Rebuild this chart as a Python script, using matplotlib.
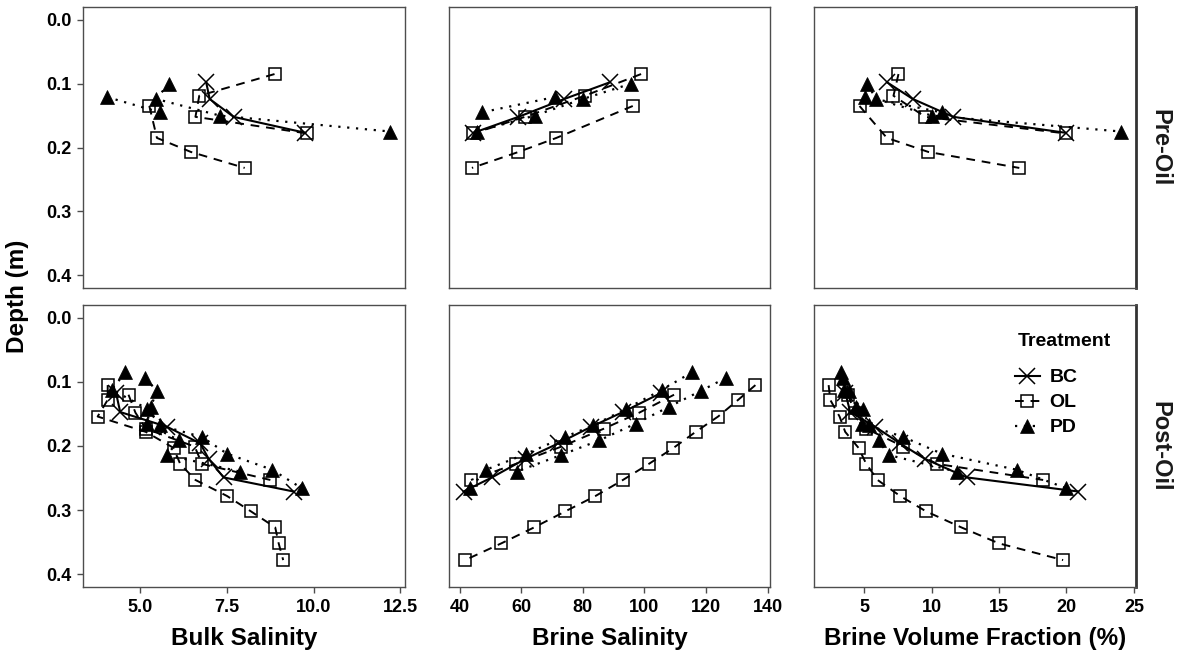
import matplotlib
matplotlib.use("Agg")
import matplotlib.pyplot as plt
from matplotlib.lines import Line2D
import numpy as np

plt.rcParams["font.family"] = ["Liberation Sans", "DejaVu Sans"]

W, H = 1179, 657
BORDER = "#4d4d4d"

PHASES = ["Pre-Oil", "Post-Oil"]
TREATMENTS = ["BC", "OL", "PD"]
X_TITLES = ["Bulk Salinity", "Brine Salinity", "Brine Volume Fraction (%)"]
X_TICKS = [[5.0, 7.5, 10.0, 12.5], [40, 60, 80, 100, 120, 140], [5, 10, 15, 20, 25]]
X_TICKLABELS = [["5.0", "7.5", "10.0", "12.5"],
                ["40", "60", "80", "100", "120", "140"],
                ["5", "10", "15", "20", "25"]]
Y_TICKS = [0.0, 0.1, 0.2, 0.3, 0.4]
Y_TICKLABELS = ["0.0", "0.1", "0.2", "0.3", "0.4"]

# ---- Pre-Oil profiles ----
pre_bc_depth = [0.098, 0.124, 0.152, 0.177]
pre_bc_bulk = [6.90, 7.00, 7.69, 9.76]
pre_bc_brine = [88.7, 74.0, 59.1, 44.5]
pre_bc_bvf = [6.7, 8.6, 11.6, 19.95]

pre_ol1_depth = [0.085, 0.119, 0.152, 0.178]
pre_ol1_bulk = [8.87, 6.70, 6.59, 9.81]
pre_ol1_brine = [98.9, 80.6, 61.2, 44.5]
pre_ol1_bvf = [7.54, 7.17, 9.52, 19.95]

pre_ol2_depth = [0.135, 0.185, 0.207, 0.232]
pre_ol2_bulk = [5.26, 5.48, 6.46, 8.01]
pre_ol2_brine = [96.2, 71.4, 59.1, 44.0]
pre_ol2_bvf = [4.65, 6.68, 9.76, 16.5]

pre_pd1_depth = [0.100, 0.124, 0.150, 0.175]
pre_pd1_bulk = [5.82, 5.46, 7.29, 12.21]
pre_pd1_brine = [95.7, 80.0, 64.4, 45.6]
pre_pd1_bvf = [5.2, 5.89, 10.0, 24.07]

pre_pd2_depth = [0.121, 0.145]
pre_pd2_bulk = [4.04, 5.58]
pre_pd2_brine = [70.9, 47.2]
pre_pd2_bvf = [5.07, 10.75]

# ---- Post-Oil profiles ----
post_bc_depth = [0.117, 0.147, 0.170, 0.196, 0.220, 0.249, 0.271]
post_bc_bulk = [4.30, 4.42, 5.77, 6.73, 6.97, 7.40, 9.42]
post_bc_brine = [105.5, 93.0, 82.7, 72.0, 61.4, 50.5, 41.3]
post_bc_bvf = [3.6, 3.96, 5.81, 7.66, 9.5, 12.6, 20.87]

post_ol1_depth = [0.120, 0.148, 0.173, 0.201, 0.228, 0.253]
post_ol1_bulk = [4.66, 4.86, 5.16, 6.57, 6.78, 8.75]
post_ol1_brine = [109.6, 98.3, 86.8, 73.0, 58.2, 43.7]
post_ol1_bvf = [3.8, 4.3, 5.15, 7.91, 10.4, 18.27]

post_ol2_depth = [0.105, 0.128, 0.154, 0.178, 0.203, 0.228,
                  0.253, 0.278, 0.302, 0.327, 0.352, 0.378]
post_ol2_bulk = [4.06, 4.06, 3.77, 5.16, 5.96, 6.15,
                 6.59, 7.50, 8.19, 8.89, 8.99, 9.12]
post_ol2_brine = [136.0, 130.4, 123.9, 116.6, 109.4, 101.4,
                  93.0, 84.1, 74.3, 64.2, 53.5, 41.8]
post_ol2_bvf = [2.36, 2.48, 3.17, 3.59, 4.58, 5.15,
                5.99, 7.66, 9.59, 12.2, 15.0, 19.75]

post_pd1_depth = [0.085, 0.112, 0.142, 0.168, 0.186, 0.212, 0.237, 0.266]
post_pd1_bulk = [4.57, 4.18, 5.20, 5.58, 6.78, 7.50, 8.80, 9.66]
post_pd1_brine = [115.4, 105.8, 94.0, 83.3, 74.1, 61.7, 48.6, 43.4]
post_pd1_bvf = [3.3, 3.5, 4.9, 5.32, 7.91, 10.75, 16.3, 20.0]

post_pd2_depth = [0.094, 0.114, 0.139, 0.165, 0.191, 0.214, 0.240]
post_pd2_bulk = [5.14, 5.48, 5.30, 5.19, 6.11, 5.77, 7.88]
post_pd2_brine = [126.3, 118.3, 107.9, 97.2, 85.4, 73.0, 58.5]
post_pd2_bvf = [3.4, 3.9, 4.4, 4.83, 6.06, 6.80, 11.86]

CORES = [
    ("Pre-Oil", "BC", pre_bc_depth, pre_bc_bulk, pre_bc_brine, pre_bc_bvf),
    ("Pre-Oil", "OL", pre_ol1_depth, pre_ol1_bulk, pre_ol1_brine, pre_ol1_bvf),
    ("Pre-Oil", "OL", pre_ol2_depth, pre_ol2_bulk, pre_ol2_brine, pre_ol2_bvf),
    ("Pre-Oil", "PD", pre_pd1_depth, pre_pd1_bulk, pre_pd1_brine, pre_pd1_bvf),
    ("Pre-Oil", "PD", pre_pd2_depth, pre_pd2_bulk, pre_pd2_brine, pre_pd2_bvf),
    ("Post-Oil", "BC", post_bc_depth, post_bc_bulk, post_bc_brine, post_bc_bvf),
    ("Post-Oil", "OL", post_ol1_depth, post_ol1_bulk, post_ol1_brine, post_ol1_bvf),
    ("Post-Oil", "OL", post_ol2_depth, post_ol2_bulk, post_ol2_brine, post_ol2_bvf),
    ("Post-Oil", "PD", post_pd1_depth, post_pd1_bulk, post_pd1_brine, post_pd1_bvf),
    ("Post-Oil", "PD", post_pd2_depth, post_pd2_bulk, post_pd2_brine, post_pd2_bvf),
]

STYLE = {
    "BC": dict(marker="x", linestyle="-", markersize=11, markeredgewidth=1.1,
               markerfacecolor="black", linewidth=1.5),
    "OL": dict(marker="s", linestyle=(0, (4.5, 3.5)), markersize=9, markeredgewidth=1.1,
               markerfacecolor="none", linewidth=1.4),
    "PD": dict(marker="^", linestyle=(0, (1, 3)), markersize=10, markeredgewidth=0.5,
               markerfacecolor="black", linewidth=1.6),
}

# panel geometry in pixels
COL_X = [(83, 405), (449, 770), (814, 1136)]
ROW_Y = [(7, 288), (305, 587)]


def px_axes(fig, x0, x1, y0, y1):
    return fig.add_axes([x0 / W, 1 - y1 / H, (x1 - x0) / W, (y1 - y0) / H])


def expand(vals, frac=0.05):
    lo, hi = min(vals), max(vals)
    pad = (hi - lo) * frac
    return lo - pad, hi + pad


fig = plt.figure(figsize=(W / 100, H / 100), dpi=100, facecolor="white")

# free x scales per column (ggplot-style 5% expansion)
xlims = []
for j in range(3):
    allv = []
    for core in CORES:
        allv += list(core[3 + j])
    xlims.append(expand(allv))

axes = {}
for i, phase in enumerate(PHASES):
    for j in range(3):
        ax = px_axes(fig, COL_X[j][0], COL_X[j][1], ROW_Y[i][0], ROW_Y[i][1])
        axes[(i, j)] = ax
        for core in CORES:
            if core[0] != phase:
                continue
            tr = core[1]
            ax.plot(core[3 + j], core[2], color="black", zorder=3, **STYLE[tr])
        ax.set_xlim(*xlims[j])
        ax.set_ylim(0.42, -0.02)
        ax.set_xticks(X_TICKS[j])
        ax.set_yticks(Y_TICKS)
        for sp in ax.spines.values():
            sp.set_color(BORDER)
            sp.set_linewidth(1.0)
        ax.tick_params(axis="both", length=4, width=1.0, color=BORDER, pad=4.5,
                       labelsize=13, labelcolor="black")
        if i == 1:
            ax.set_xticklabels(X_TICKLABELS[j], fontweight="bold")
        else:
            ax.set_xticklabels([])
            ax.tick_params(axis="x", length=0)
        if j == 0:
            ax.set_yticklabels(Y_TICKLABELS, fontweight="bold")
        else:
            ax.set_yticklabels([])
            ax.tick_params(axis="y", length=0)
        if j == 2:
            ax.spines["right"].set_linewidth(2.0)
            ax.spines["right"].set_color("#333333")

# strip labels on the right
for i, phase in enumerate(PHASES):
    yc = (ROW_Y[i][0] + ROW_Y[i][1]) / 2
    fig.text(1160 / W, 1 - yc / H, phase, rotation=270, ha="center", va="center",
             fontsize=17, fontweight="bold", color="#1a1a1a")

# axis titles
for j, title in enumerate(X_TITLES):
    xc = (COL_X[j][0] + COL_X[j][1]) / 2
    fig.text(xc / W, 1 - 639 / H, title, ha="center", va="center",
             fontsize=17.5, fontweight="bold")
fig.text(18 / W, 1 - 296 / H, "Depth (m)", rotation=90, ha="center", va="center",
         fontsize=17.5, fontweight="bold")

# legend (title drawn separately to match the wider title gap)
lax = axes[(1, 2)]
lax.text((1018 - 814) / 322, 1 - (342 - 305) / 282, "Treatment", transform=lax.transAxes,
         ha="left", va="center", fontsize=14, fontweight="bold")
handles = [Line2D([], [], color="black", **STYLE[t]) for t in TREATMENTS]
lax.legend(handles, TREATMENTS, loc="upper left",
           bbox_to_anchor=((1005 - 814) / 322, 1 - (359 - 305) / 282), frameon=False,
           prop={"size": 14, "weight": "bold"},
           handlelength=1.3, handletextpad=0.5, labelspacing=0.38, borderpad=0)

fig.savefig("out.png", dpi=100, facecolor="white")
